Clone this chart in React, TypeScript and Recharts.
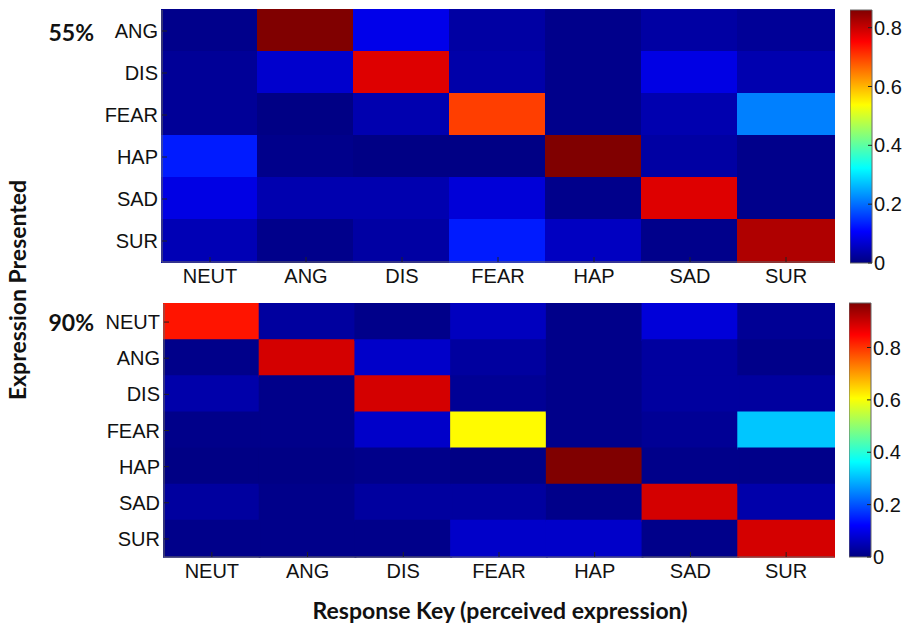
import { Bar, BarChart, Cell, XAxis, YAxis } from "recharts";

// response keys (columns) shared by both panels
const RESPONSES = ["NEUT", "ANG", "DIS", "FEAR", "HAP", "SAD", "SUR"];

// 55% intensity panel
const ROWS_55 = ["ANG", "DIS", "FEAR", "HAP", "SAD", "SUR"];
const VALUES_55 = [
  [0.01, 0.86, 0.09, 0.03, 0.01, 0.03, 0.02],
  [0.02, 0.065, 0.78, 0.035, 0.01, 0.085, 0.04],
  [0.02, 0.005, 0.04, 0.7, 0.01, 0.04, 0.215],
  [0.13, 0.01, 0.005, 0.005, 0.86, 0.03, 0.01],
  [0.085, 0.04, 0.04, 0.075, 0.01, 0.78, 0.01],
  [0.045, 0.01, 0.03, 0.13, 0.055, 0.01, 0.82],
];
const MAX_55 = 0.86;

// 90% intensity panel
const ROWS_90 = ["NEUT", "ANG", "DIS", "FEAR", "HAP", "SAD", "SUR"];
const VALUES_90 = [
  [0.83, 0.03, 0.01, 0.06, 0.01, 0.085, 0.02],
  [0.01, 0.89, 0.07, 0.03, 0.01, 0.03, 0.01],
  [0.04, 0.01, 0.89, 0.02, 0.01, 0.03, 0.03],
  [0.01, 0.01, 0.07, 0.61, 0.01, 0.02, 0.31],
  [0.005, 0.005, 0.01, 0.005, 0.97, 0.01, 0.01],
  [0.03, 0.01, 0.03, 0.03, 0.01, 0.89, 0.04],
  [0.01, 0.01, 0.01, 0.07, 0.07, 0.01, 0.89],
];
const MAX_90 = 0.97;

const CBAR_TICKS = [0, 0.2, 0.4, 0.6, 0.8];

const TICK_FONT = {
  fill: "#111",
  fontSize: 20,
  fontFamily: "'Liberation Sans', Arial, sans-serif",
};
const BORDER = "#666";

const clamp = (v: number) => Math.max(0, Math.min(1, v));
function jet(t: number) {
  const x = clamp(t);
  const r = clamp(1.5 - Math.abs(4 * x - 3));
  const g = clamp(1.5 - Math.abs(4 * x - 2));
  const b = clamp(1.5 - Math.abs(4 * x - 1));
  const h = (v: number) => Math.round(v * 255).toString(16).padStart(2, "0");
  return `#${h(r)}${h(g)}${h(b)}`;
}

type HeatProps = {
  rows: string[];
  values: number[][];
  max: number;
  top: number;
  marginTop: number;
  marginBottom: number;
  axisWidth: number;
};

function Heatmap({ rows, values, max, top, marginTop, marginBottom, axisWidth }: HeatProps) {
  const data = rows.map((row) => {
    const o: Record<string, string | number> = { row };
    RESPONSES.forEach((c) => (o[c] = 1));
    return o;
  });
  const colTicks = RESPONSES.map((_, i) => i + 0.5);
  const rowTicks = rows.map((_, i) => i + 0.5);

  return (
    <div style={{ position: "absolute", left: 0, top }}>
      <BarChart
        width={850}
        height={300}
        data={data}
        layout="vertical"
        barCategoryGap={0}
        barGap={0}
        margin={{ top: marginTop, right: 16, bottom: marginBottom, left: 0 }}
      >
        {RESPONSES.map((col, j) => (
          <Bar key={col} dataKey={col} stackId="cells" isAnimationActive={false}>
            {rows.map((row, i) => {
              const c = jet(values[i][j] / max);
              return <Cell key={row} fill={c} stroke={c} strokeWidth={2} />;
            })}
          </Bar>
        ))}
        <XAxis
          type="number"
          domain={[0, RESPONSES.length]}
          ticks={colTicks}
          interval={0}
          tickFormatter={(v: number) => RESPONSES[Math.floor(v)]}
          tick={TICK_FONT}
          tickSize={-5}
          tickMargin={12}
          height={30}
          axisLine={{ stroke: BORDER }}
          tickLine={{ stroke: "#222" }}
        />
        <XAxis
          xAxisId="top"
          orientation="top"
          type="number"
          domain={[0, RESPONSES.length]}
          ticks={colTicks}
          tick={false}
          tickSize={-5}
          height={0}
          axisLine={{ stroke: BORDER }}
          tickLine={{ stroke: "#222" }}
        />
        <YAxis
          type="category"
          dataKey="row"
          width={axisWidth}
          interval={0}
          tick={TICK_FONT}
          tickSize={-5}
          tickMargin={9}
          axisLine={{ stroke: BORDER }}
          tickLine={{ stroke: "#222" }}
        />
        <YAxis
          yAxisId="right"
          orientation="right"
          type="number"
          domain={[0, rows.length]}
          ticks={rowTicks}
          tick={false}
          tickSize={-5}
          width={0}
          axisLine={{ stroke: BORDER }}
          tickLine={{ stroke: "#222" }}
        />
      </BarChart>
    </div>
  );
}

type BarProps = { id: string; max: number; left: number; top: number; marginTop: number; marginBottom: number };

function ColorBar({ id, max, left, top, marginTop, marginBottom }: BarProps) {
  const stops = [0, 0.125, 0.375, 0.625, 0.875, 1];
  return (
    <div style={{ position: "absolute", left, top }}>
      <BarChart
        width={52}
        height={280}
        data={[{ name: "scale", v: max }]}
        barCategoryGap={0}
        margin={{ top: marginTop, right: 0, bottom: marginBottom, left: 0 }}
      >
        <defs>
          <linearGradient id={id} x1="0" y1="1" x2="0" y2="0">
            {stops.map((s) => (
              <stop key={s} offset={s} stopColor={jet(s)} />
            ))}
          </linearGradient>
        </defs>
        <XAxis dataKey="name" hide />
        <YAxis
          orientation="right"
          type="number"
          domain={[0, max]}
          ticks={CBAR_TICKS}
          interval={0}
          tickFormatter={(v: number) => (v === 0 ? "0" : v.toFixed(1))}
          tick={TICK_FONT}
          tickSize={-4}
          tickMargin={6}
          width={30}
          axisLine={false}
          tickLine={{ stroke: "#222" }}
        />
        <Bar dataKey="v" fill={`url(#${id})`} stroke={BORDER} strokeWidth={1} isAnimationActive={false} />
      </BarChart>
    </div>
  );
}

const BOLD = { fontFamily: "Lato, 'Open Sans', sans-serif", fontWeight: 700, fill: "#111" };

export default function App() {
  return (
    <div style={{ position: "absolute", left: 0, top: 0, width: 902, height: 626, background: "#fff" }}>
      <svg width={902} height={626} style={{ position: "absolute", left: 0, top: 0 }}>
        <text x={94} y={32} textAnchor="end" dominantBaseline="central" fontSize={23} {...BOLD}>
          55%
        </text>
        <text x={94} y={322} textAnchor="end" dominantBaseline="central" fontSize={23} {...BOLD}>
          90%
        </text>
        <text
          x={17}
          y={290}
          textAnchor="middle"
          dominantBaseline="central"
          fontSize={23}
          transform="rotate(-90 17 290)"
          {...BOLD}
        >
          Expression Presented
        </text>
        <text x={500} y={610} textAnchor="middle" dominantBaseline="central" fontSize={23} {...BOLD}>
          Response Key (perceived expression)
        </text>
      </svg>
      <Heatmap rows={ROWS_55} values={VALUES_55} max={MAX_55} top={0} marginTop={10} marginBottom={8} axisWidth={162} />
      <Heatmap rows={ROWS_90} values={VALUES_90} max={MAX_90} top={290} marginTop={14} marginBottom={3} axisWidth={164} />
      <ColorBar id="jet55" max={MAX_55} left={850} top={0} marginTop={10} marginBottom={17} />
      <ColorBar id="jet90" max={MAX_90} left={849} top={290} marginTop={13} marginBottom={13} />
    </div>
  );
}
